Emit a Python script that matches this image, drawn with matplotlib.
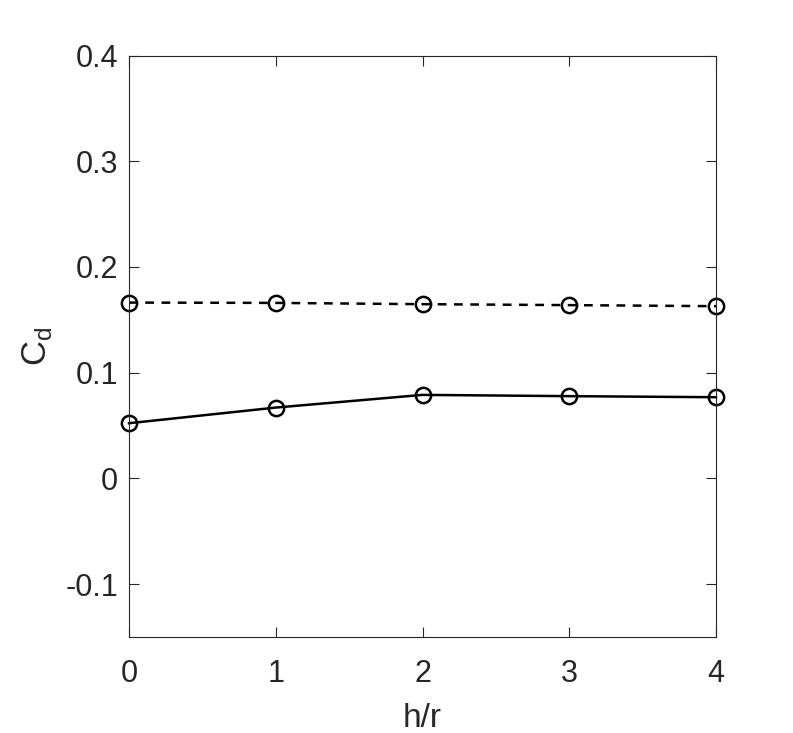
import matplotlib
matplotlib.use("Agg")
import matplotlib.pyplot as plt

plt.rcParams['font.family'] = ['Liberation Sans', 'DejaVu Sans']

h_r = [0, 1, 2, 3, 4]
cd_dashed = [0.1663, 0.1660, 0.1648, 0.1639, 0.1629]
cd_solid = [0.0522, 0.0670, 0.0790, 0.0778, 0.0768]

fig = plt.figure(figsize=(7.93, 7.33), dpi=100)
ax = fig.add_axes([129/793, 1-637/733, (716-129)/793, (637-55.5)/733])

ax.plot(h_r, cd_dashed, 'k--', lw=1.8, marker='o', mfc='none', mec='k', ms=11, mew=1.8, clip_on=False, dashes=(3.5, 3))
ax.plot(h_r, cd_solid, 'k-', lw=1.8, marker='o', mfc='none', mec='k', ms=11, mew=1.8, clip_on=False)

ax.set_xlim(0, 4)
ax.set_ylim(-0.15, 0.4)
ax.set_xticks([0, 1, 2, 3, 4])
ax.set_yticks([-0.1, 0, 0.1, 0.2, 0.3, 0.4])
ax.set_yticklabels(['-0.1', '0', '0.1', '0.2', '0.3', '0.4'])
ax.tick_params(direction='in', length=7, width=0.8, top=True, right=True, labelsize=22, colors='#262626', pad=8)
ax.tick_params(axis='x', pad=16)
for s in ax.spines.values():
    s.set_linewidth(0.8)
    s.set_color('#262626')
ax.set_xlabel('h/r', fontsize=24, color='#262626', labelpad=10)
ax.set_ylabel(r'C$_\mathregular{d}$', fontsize=25, color='#262626', labelpad=8)

fig.savefig('out.png', dpi=100)
